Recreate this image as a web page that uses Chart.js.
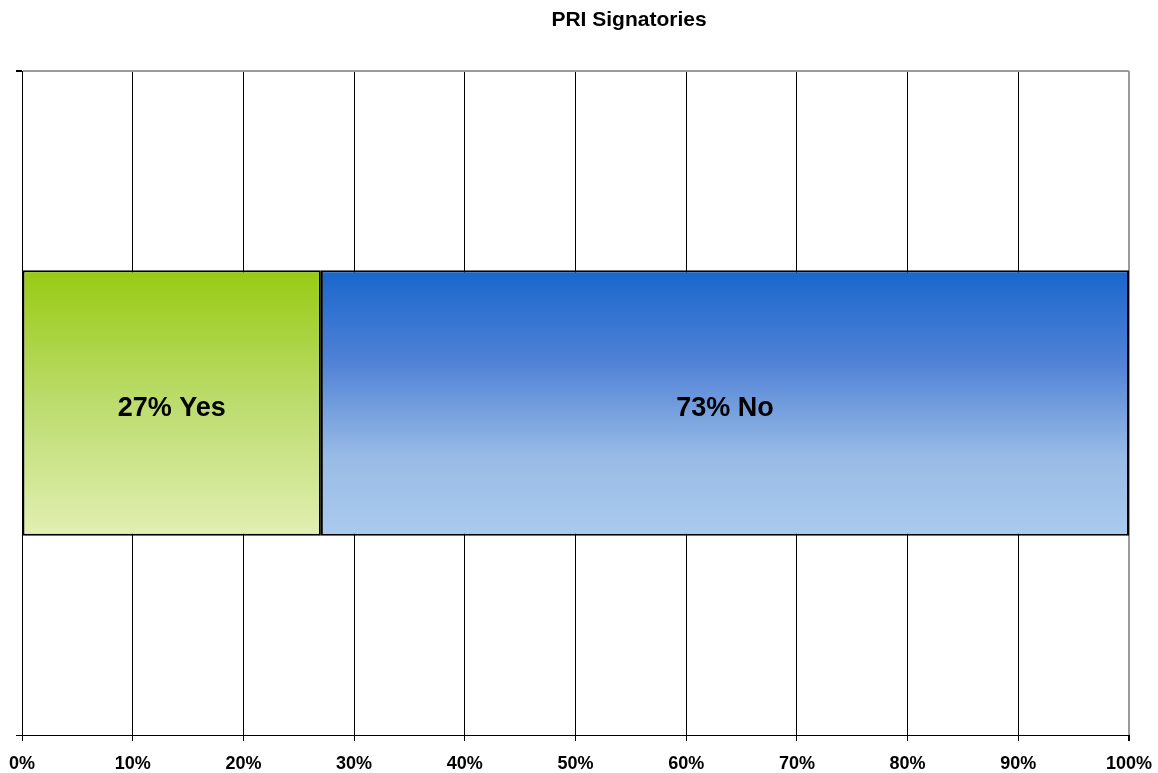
<!DOCTYPE html>
<html>
<head>
<meta charset="utf-8">
<script src="https://cdn.jsdelivr.net/npm/chart.js@4/dist/chart.umd.min.js"></script>
<style>
  html, body { margin: 0; padding: 0; background: #fff; }
  #wrap { width: 1158px; height: 773px; }
</style>
</head>
<body>
<div id="wrap"><canvas id="chart" width="1158" height="773"></canvas></div>
<script>
const titleText = "PRI Signatories";
const categories = ["Signatory"];
const seriesNames = ["Yes", "No"];
const yesValues = [27];
const noValues = [73];
const xTicks = [0, 10, 20, 30, 40, 50, 60, 70, 80, 90, 100];

const FONT = "Arial, 'Liberation Sans', sans-serif";
const GRAY = "#9a9a9a";

// vertical gradient across the bar's thickness
function barGradient(stops) {
    return (ctx) => {
        const chart = ctx.chart;
        const area = chart.chartArea;
        if (!area) return stops[0][1];
        const h = area.bottom - area.top;
        const center = chart.scales.y.getPixelForValue(0);
        const g = chart.ctx.createLinearGradient(0, center - h * 0.2, 0, center + h * 0.2);
        stops.forEach((s) => g.addColorStop(s[0], s[1]));
        return g;
    };
}

const greenStops = [[0, "#98cb12"], [0.5, "#bcdc6e"], [1, "#e2efb2"]];
const blueStops = [[0, "#1966cc"], [0.35, "#5182d6"], [0.7, "#98bbe6"], [1, "#aacbee"]];

const titlePlugin = {
    id: "excelTitle",
    afterDraw(chart) {
        const c = chart.ctx;
        c.save();
        c.font = "bold 21px " + FONT;
        c.fillStyle = "#000";
        c.textAlign = "center";
        c.textBaseline = "middle";
        c.fillText(titleText, 629, 20);
        c.restore();
    }
};

const barLabels = {
    id: "barLabels",
    afterDatasetsDraw(chart) {
        const c = chart.ctx;
        c.save();
        c.font = "bold 27px " + FONT;
        c.fillStyle = "#000";
        c.textAlign = "center";
        c.textBaseline = "middle";
        chart.data.datasets.forEach((ds, i) => {
            const meta = chart.getDatasetMeta(i);
            meta.data.forEach((el, j) => {
                const x = (el.x + el.base) / 2;
                c.fillText(ds.data[j] + "% " + ds.label, x, el.y + 6);
            });
        });
        c.restore();
    }
};

new Chart(document.getElementById("chart"), {
    type: "bar",
    data: {
        labels: categories,
        datasets: [
            {
                label: seriesNames[0],
                data: yesValues,
                backgroundColor: barGradient(greenStops),
                borderColor: "#000",
                borderWidth: 2,
                borderSkipped: false
            },
            {
                label: seriesNames[1],
                data: noValues,
                backgroundColor: barGradient(blueStops),
                borderColor: "#000",
                borderWidth: 2,
                borderSkipped: false
            }
        ]
    },
    options: {
        indexAxis: "y",
        responsive: false,
        animation: false,
        devicePixelRatio: 1,
        layout: { padding: { top: 71, right: 29, left: 0, bottom: 0 } },
        datasets: { bar: { categoryPercentage: 1, barPercentage: 0.4 } },
        plugins: {
            legend: { display: false },
            title: { display: false },
            tooltip: { enabled: false }
        },
        scales: {
            x: {
                type: "linear",
                stacked: true,
                min: 0,
                max: 100,
                afterBuildTicks: (scale) => { scale.ticks = xTicks.map((v) => ({ value: v })); },
                afterFit: (scale) => {
                    scale.height = 38;
                    scale.paddingLeft = 0;
                    scale.paddingRight = 0;
                },
                ticks: {
                    callback: (v) => v + "%",
                    color: "#000",
                    font: { family: FONT, size: 18, weight: "bold" },
                    padding: 12,
                    maxRotation: 0,
                    autoSkip: false
                },
                grid: {
                    color: (ctx) => ctx.index === xTicks.length - 1 ? GRAY : "#000",
                    lineWidth: (ctx) => ctx.index === xTicks.length - 1 ? 2 : 1,
                    tickColor: "#000",
                    tickLength: 6,
                    drawTicks: true
                },
                border: { color: "#000", width: 1 }
            },
            y: {
                type: "category",
                stacked: true,
                offset: true,
                afterFit: (scale) => {
                    scale.width = 22;
                    scale.paddingTop = 0;
                    scale.paddingBottom = 0;
                },
                ticks: { display: false },
                grid: {
                    offset: true,
                    color: (ctx) => ctx.index === 0 ? GRAY : "#000",
                    lineWidth: (ctx) => ctx.index === 0 ? 2 : 1,
                    tickColor: "#000",
                    tickLength: 6,
                    drawTicks: true
                },
                border: { color: "#000", width: 1 }
            }
        }
    },
    plugins: [titlePlugin, barLabels]
});
</script>
</body>
</html>
